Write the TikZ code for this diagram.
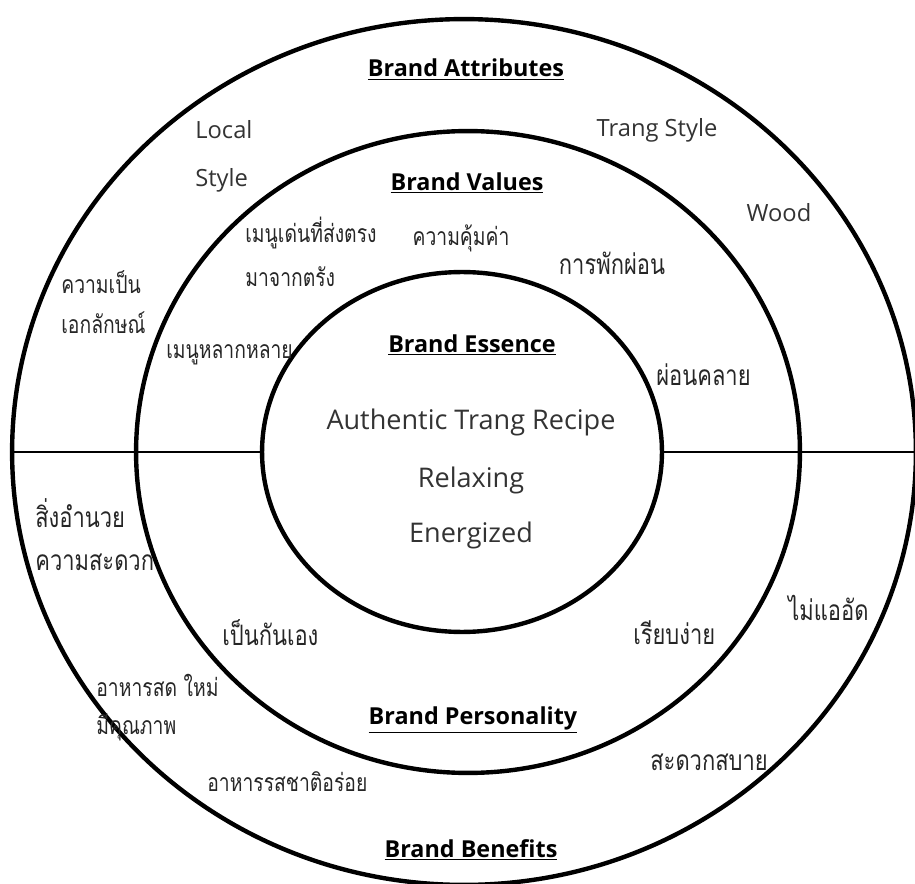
\documentclass[tikz,border=0pt]{standalone}
\usepackage{fontspec}
\setmainfont{Open Sans}
\newfontfamily\thaifont[Script=Thai,FakeStretch=0.78]{Loma}
\usetikzlibrary{shapes.geometric}

\begin{document}
\begin{tikzpicture}[
        x=0.02cm, y=-0.02cm,
        ring/.style={ellipse, draw, line width=2.5pt, inner sep=0pt, outer sep=0pt},
        divider/.style={line width=1.3pt},
        head/.style={font=\fontsize{13.3}{16}\selectfont\bfseries, inner sep=1pt},
        eng/.style={font=\fontsize{13.5}{16}\selectfont, text=black!80, inner sep=0pt},
        core/.style={font=\fontsize{15.4}{18}\selectfont, text=black!80, inner sep=0pt},
        thai/.style={font=\thaifont\fontsize{14.1}{16}\selectfont, text=black!85, inner sep=0pt},
        thaibig/.style={font=\thaifont\fontsize{16}{18}\selectfont, text=black!85, inner sep=0pt}
    ]
    \useasboundingbox (0,0) rectangle (915,884);
%
    % Rings
    \node[ring, minimum width=18.08cm, minimum height=17.32cm] (outer) at (464,452) {};
    \node[ring, minimum width=13.28cm, minimum height=12.84cm] (middle) at (468,452) {};
    \node[ring, minimum width=8cm, minimum height=7.2cm] (inner) at (462,452) {};
    \coordinate (edge) at (915,452);
%
    % Dividers
    \draw[divider] (outer.west) -- (inner.west);
    \draw[divider] (inner.east) -- (edge);
%
    % Headings
    \node[head] (attr) at (466,70) {\underline{Brand Attributes}};
    \node[head] (values) at (467,183) {\underline{Brand Values}};
    \node[head] (essence) at (472,345) {\underline{Brand Essence}};
    \node[head] (personality) at (473,720) {\underline{Brand Personality}};
    \node[head] (benefits) at (471,850) {\underline{Brand Benefits}};
%
    % Essence
    \node[core] (recipe) at (471,422) {Authentic Trang Recipe};
    \node[core] (relax) at (471,480) {Relaxing};
    \node[core] (energy) at (471,535) {Energized};
%
    % Attributes
    \node[eng, anchor=west] (local) at (195,130) {Local};
    \node[eng, anchor=west] (style) at (195,180) {Style};
    \node[eng] (trang) at (657,130) {Trang Style};
    \node[eng] (wood) at (779,213) {Wood};
    \node[thai, anchor=west] (unique1) at (61,282) {ความเป็น};
    \node[thai, anchor=west] (unique2) at (61,323) {เอกลักษณ์};
%
    % Values
    \node[thai, anchor=west] (signature) at (245,233) {เมนูเด่นที่ส่งตรง};
    \node[thai, anchor=west] (fromtrang) at (245,277) {มาจากตรัง};
    \node[thai] (worth) at (461,238) {ความคุ้มค่า};
    \node[thaibig] (rest) at (612,263) {การพักผ่อน};
    \node[thai, anchor=west] (variety) at (166,355) {เมนูหลากหลาย};
    \node[thaibig, anchor=west] (relaxed) at (656,375) {ผ่อนคลาย};
%
    % Benefits
    \node[thaibig, anchor=west] (amenity) at (35,513) {สิ่งอำนวย};
    \node[thaibig, anchor=west] (comfort) at (35,562) {ความสะดวก};
    \node[thaibig, anchor=west] (uncrowded) at (788,608) {ไม่แออัด};
    \node[thai, anchor=west] (fresh) at (96,685) {อาหารสด ใหม่};
    \node[thai, anchor=west] (quality) at (96,727) {มีคุณภาพ};
    \node[thaibig, anchor=west] (convenient) at (650,762) {สะดวกสบาย};
    \node[thai, anchor=west] (tasty) at (207,782) {อาหารรสชาติอร่อย};
%
    % Personality
    \node[thaibig, anchor=west] (friendly) at (222,633) {เป็นกันเอง};
    \node[thaibig, anchor=west] (simple) at (633,633) {เรียบง่าย};
\end{tikzpicture}
\end{document}
